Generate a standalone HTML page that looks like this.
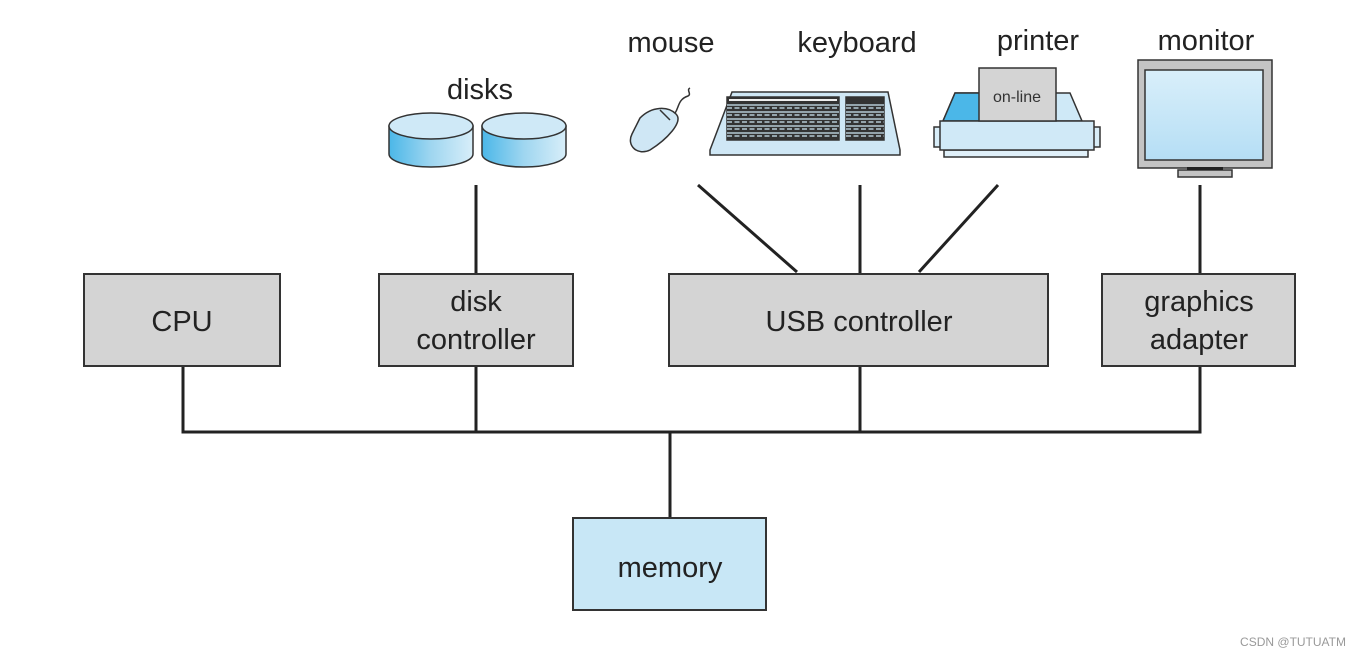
<!DOCTYPE html>
<html><head><meta charset="utf-8"><style>
html,body{margin:0;padding:0;background:#fff;}
svg{display:block;font-family:"Liberation Sans",Arial,sans-serif;}
</style></head><body>
<svg width="1363" height="657" viewBox="0 0 1363 657" xmlns="http://www.w3.org/2000/svg">
<defs>
<linearGradient id="cyl" x1="0" x2="1" y1="0" y2="0">
<stop offset="0" stop-color="#4bb7e8"/><stop offset="0.5" stop-color="#9fd6f0"/><stop offset="1" stop-color="#d8eef9"/>
</linearGradient>
<linearGradient id="scr" x1="0" x2="0" y1="0" y2="1">
<stop offset="0" stop-color="#d9effa"/><stop offset="1" stop-color="#b5def5"/>
</linearGradient>
</defs>
<g stroke="#222" stroke-width="3" fill="none">
<line x1="183" y1="366" x2="183" y2="432"/>
<line x1="476" y1="366" x2="476" y2="432"/>
<line x1="860" y1="366" x2="860" y2="432"/>
<line x1="1200" y1="366" x2="1200" y2="432"/>
<line x1="181.5" y1="432" x2="1201.5" y2="432"/>
<line x1="670" y1="432" x2="670" y2="518"/>
<line x1="476" y1="185" x2="476" y2="274"/>
<line x1="698" y1="185" x2="797" y2="272"/>
<line x1="860" y1="185" x2="860" y2="274"/>
<line x1="998" y1="185" x2="919" y2="272"/>
<line x1="1200" y1="185" x2="1200" y2="274"/>
</g>
<g stroke="#333" stroke-width="2" fill="#d4d4d4">
<rect x="84" y="274" width="196" height="92"/>
<rect x="379" y="274" width="194" height="92"/>
<rect x="669" y="274" width="379" height="92"/>
<rect x="1102" y="274" width="193" height="92"/>
<rect x="573" y="518" width="193" height="92" fill="#c8e7f6"/>
</g>
<g fill="#222" font-size="29" text-anchor="middle">
<text x="182" y="331">CPU</text>
<text x="476" y="311">disk</text>
<text x="476" y="349">controller</text>
<text x="859" y="331">USB controller</text>
<text x="1199" y="311">graphics</text>
<text x="1199" y="349">adapter</text>
<text x="670" y="577">memory</text>
<text x="480" y="99">disks</text>
<text x="671" y="52">mouse</text>
<text x="857" y="52">keyboard</text>
<text x="1038" y="50">printer</text>
<text x="1206" y="50">monitor</text>
</g>
<!-- disks -->
<g stroke="#333" stroke-width="1.5">
<path d="M389 126 V154 A42 13 0 0 0 473 154 V126 Z" fill="url(#cyl)"/>
<ellipse cx="431" cy="126" rx="42" ry="13" fill="#cfe9f7"/>
<path d="M482 126 V154 A42 13 0 0 0 566 154 V126 Z" fill="url(#cyl)"/>
<ellipse cx="524" cy="126" rx="42" ry="13" fill="#cfe9f7"/>
</g>
<!-- mouse -->
<g stroke="#333" stroke-width="1.5">
<path d="M672 117 C680 110 676 100 688 96 C692 94 686 90 690 88" fill="none"/>
<path d="M640 118 C652 106 668 106 676 114 C684 122 666 140 650 150 C638 156 626 146 632 134 Z" fill="#cfe7f5"/>
<path d="M660 110 L670 120" fill="none"/>
</g>
<!-- keyboard -->
<g stroke="#333" stroke-width="1.5">
<path d="M732 92 L888 92 L900 150 L900 155 L710 155 L710 150 Z" fill="#cfe7f5"/>
<rect x="727" y="97" width="112" height="43" fill="#333"/>
<rect x="846" y="97" width="38" height="43" fill="#333"/>
</g>
<g fill="#eee">
<rect x="729" y="99" width="108" height="2"/>
</g>
<g stroke="#cfe7f5" stroke-width="1.3">
<line x1="727" y1="105" x2="839" y2="105"/><line x1="727" y1="112" x2="839" y2="112"/>
<line x1="727" y1="119" x2="839" y2="119"/><line x1="727" y1="126" x2="839" y2="126"/>
<line x1="727" y1="133" x2="839" y2="133"/>
<line x1="846" y1="105" x2="884" y2="105"/><line x1="846" y1="112" x2="884" y2="112"/>
<line x1="846" y1="119" x2="884" y2="119"/><line x1="846" y1="126" x2="884" y2="126"/>
<line x1="846" y1="133" x2="884" y2="133"/>
</g>
<g stroke="#cfe7f5" stroke-width="1.3" stroke-dasharray="5 2.5">
<line x1="727" y1="108" x2="839" y2="108"/><line x1="727" y1="115" x2="839" y2="115"/>
<line x1="727" y1="122" x2="839" y2="122"/><line x1="727" y1="129" x2="839" y2="129"/>
<line x1="727" y1="136" x2="839" y2="136"/>
<line x1="846" y1="108" x2="884" y2="108"/><line x1="846" y1="115" x2="884" y2="115"/>
<line x1="846" y1="122" x2="884" y2="122"/><line x1="846" y1="129" x2="884" y2="129"/>
<line x1="846" y1="136" x2="884" y2="136"/>
</g>
<!-- printer -->
<g stroke="#333" stroke-width="1.5">
<path d="M955 93 L1070 93 L1082 121 L943 121 Z" fill="#cfe9f7"/>
<path d="M955 93 L980 93 L980 121 L943 121 Z" fill="#4bb7e8"/>
<rect x="944" y="150" width="144" height="7" fill="#e0f0f9"/>
<rect x="934" y="127" width="8" height="20" fill="#d8edf8"/>
<rect x="1092" y="127" width="8" height="20" fill="#d8edf8"/>
<rect x="940" y="121" width="154" height="29" fill="#d0e9f7"/>
<rect x="979" y="68" width="77" height="53" fill="#d4d4d4"/>
</g>
<text x="1017" y="102" font-size="16" text-anchor="middle" fill="#333">on-line</text>
<!-- monitor -->
<g stroke="#333" stroke-width="1.5">
<rect x="1138" y="60" width="134" height="108" fill="#c4c4c4"/>
<rect x="1145" y="70" width="118" height="90" fill="url(#scr)"/>
<rect x="1178" y="170" width="54" height="7" fill="#c4c4c4"/>
</g>
<rect x="1187" y="167" width="36" height="3" fill="#222"/>
<text x="1346" y="646" font-size="12" text-anchor="end" fill="#999">CSDN @TUTUATM</text>
</svg>
</body></html>
